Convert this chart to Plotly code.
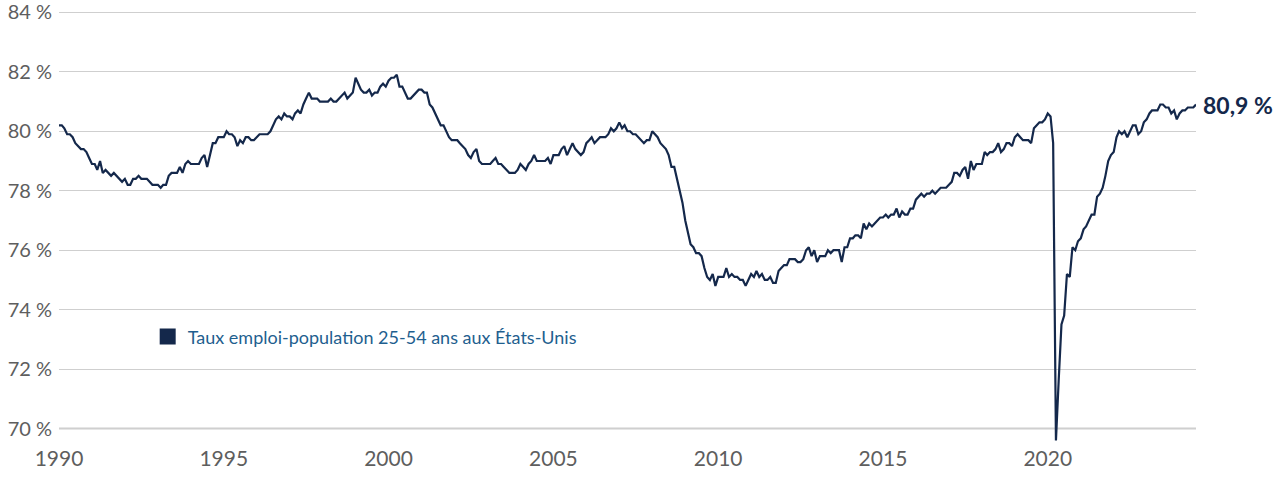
import pandas as pd
import plotly.graph_objects as go

NAVY = "#14284B"
BLEU = "#1F5F8F"
GRIS = "#5E5E5E"

debut = "1990-01-01"

# taux d'emploi-population 25-54 ans, mensuel (%)
taux_emploi = [
    80.2, 80.2, 80.1, 79.9, 79.9, 79.8, 79.6, 79.5, 79.4, 79.4, 79.3, 79.1,  # 1990
    78.9, 78.9, 78.7, 79.0, 78.6, 78.7, 78.6, 78.5, 78.6, 78.5, 78.4, 78.3,  # 1991
    78.4, 78.2, 78.2, 78.4, 78.4, 78.5, 78.4, 78.4, 78.4, 78.3, 78.2, 78.2,  # 1992
    78.2, 78.1, 78.2, 78.2, 78.5, 78.6, 78.6, 78.6, 78.8, 78.6, 78.9, 79.0,  # 1993
    78.9, 78.9, 78.9, 78.9, 79.1, 79.2, 78.8, 79.2, 79.6, 79.6, 79.8, 79.8,  # 1994
    79.8, 80.0, 79.9, 79.9, 79.8, 79.5, 79.7, 79.6, 79.8, 79.8, 79.7, 79.7,  # 1995
    79.8, 79.9, 79.9, 79.9, 79.9, 80.0, 80.2, 80.4, 80.5, 80.4, 80.6, 80.5,  # 1996
    80.5, 80.4, 80.6, 80.7, 80.6, 80.9, 81.1, 81.3, 81.1, 81.1, 81.1, 81.0,  # 1997
    81.0, 81.0, 81.0, 81.1, 81.0, 81.0, 81.1, 81.2, 81.3, 81.1, 81.2, 81.3,  # 1998
    81.8, 81.6, 81.4, 81.3, 81.3, 81.4, 81.2, 81.3, 81.3, 81.5, 81.6, 81.5,  # 1999
    81.7, 81.8, 81.8, 81.9, 81.5, 81.5, 81.3, 81.1, 81.1, 81.2, 81.3, 81.4,  # 2000
    81.4, 81.3, 81.3, 80.9, 80.8, 80.6, 80.4, 80.2, 80.2, 80.0, 79.8, 79.7,  # 2001
    79.7, 79.7, 79.6, 79.5, 79.4, 79.2, 79.1, 79.3, 79.4, 79.0, 78.9, 78.9,  # 2002
    78.9, 78.9, 79.0, 79.1, 78.9, 78.9, 78.8, 78.7, 78.6, 78.6, 78.6, 78.7,  # 2003
    78.9, 78.8, 78.7, 78.9, 79.0, 79.2, 79.0, 79.0, 79.0, 79.0, 79.1, 78.9,  # 2004
    79.2, 79.2, 79.2, 79.4, 79.5, 79.2, 79.4, 79.6, 79.4, 79.3, 79.2, 79.3,  # 2005
    79.6, 79.7, 79.8, 79.6, 79.7, 79.8, 79.8, 79.8, 79.9, 80.1, 80.0, 80.1,  # 2006
    80.3, 80.1, 80.2, 80.0, 80.0, 79.9, 79.9, 79.8, 79.7, 79.6, 79.7, 79.7,  # 2007
    80.0, 79.9, 79.8, 79.6, 79.5, 79.4, 79.2, 78.8, 78.8, 78.4, 78.0, 77.6,  # 2008
    77.0, 76.6, 76.2, 76.1, 75.9, 75.9, 75.8, 75.4, 75.1, 75.0, 75.2, 74.8,  # 2009
    75.1, 75.1, 75.1, 75.4, 75.1, 75.2, 75.1, 75.1, 75.0, 75.0, 74.8, 75.0,  # 2010
    75.2, 75.1, 75.3, 75.1, 75.2, 75.0, 75.0, 75.1, 74.9, 74.9, 75.3, 75.4,  # 2011
    75.5, 75.5, 75.7, 75.7, 75.7, 75.6, 75.6, 75.7, 76.0, 76.1, 75.8, 76.0,  # 2012
    75.6, 75.8, 75.8, 75.8, 76.0, 75.9, 76.0, 76.0, 76.0, 75.6, 76.1, 76.1,  # 2013
    76.4, 76.4, 76.5, 76.5, 76.4, 76.9, 76.7, 76.9, 76.8, 76.9, 77.0, 77.1,  # 2014
    77.1, 77.2, 77.1, 77.2, 77.2, 77.4, 77.1, 77.3, 77.2, 77.2, 77.4, 77.4,  # 2015
    77.7, 77.8, 77.9, 77.8, 77.9, 77.9, 78.0, 77.9, 78.0, 78.1, 78.1, 78.1,  # 2016
    78.2, 78.3, 78.6, 78.6, 78.5, 78.7, 78.8, 78.4, 79.0, 78.7, 78.9, 78.9,  # 2017
    78.9, 79.3, 79.2, 79.3, 79.3, 79.4, 79.6, 79.3, 79.4, 79.6, 79.6, 79.5,  # 2018
    79.8, 79.9, 79.8, 79.7, 79.7, 79.7, 79.6, 80.1, 80.2, 80.3, 80.3, 80.4,  # 2019
    80.6, 80.5, 79.6, 69.6, 71.6, 73.5, 73.8, 75.2, 75.1, 76.1, 76.0, 76.3,  # 2020
    76.4, 76.7, 76.8, 77.0, 77.2, 77.2, 77.8, 77.9, 78.1, 78.5, 79.0, 79.2,  # 2021
    79.3, 79.8, 80.0, 79.9, 80.0, 79.8, 80.0, 80.2, 80.2, 79.9, 80.0, 80.3,  # 2022
    80.4, 80.6, 80.7, 80.7, 80.7, 80.9, 80.9, 80.8, 80.8, 80.6, 80.7, 80.4,  # 2023
    80.6, 80.7, 80.7, 80.8, 80.8, 80.8, 80.9,                                # 2024
]

annees_ticks = [1990, 1995, 2000, 2005, 2010, 2015, 2020]
y_ticks = [70, 72, 74, 76, 78, 80, 82, 84]

dates = pd.date_range(debut, periods=len(taux_emploi), freq="MS")
serie = "Taux emploi-population 25-54 ans aux États-Unis"

fig = go.Figure()
fig.add_trace(go.Scatter(
    x=dates, y=taux_emploi,
    mode="lines",
    line=dict(color=NAVY, width=2.2),
    showlegend=False,
    hoverinfo="skip",
))
# entrée de légende carrée
fig.add_trace(go.Scatter(
    x=[None], y=[None],
    mode="markers",
    marker=dict(symbol="square", size=16, color=NAVY),
    name=serie,
))

dernier = taux_emploi[-1]
fig.add_annotation(
    x=dates[-1], y=dernier,
    text=f"<b>{dernier:.1f}".replace(".", ",") + " %</b>",
    xanchor="left", yanchor="middle", xshift=5, showarrow=False,
    font=dict(size=23, color=NAVY),
)

# ligne de base 70 %
fig.add_shape(type="line", xref="paper", yref="y", x0=0, x1=1, y0=70, y1=70,
              line=dict(color="#9A9A9A", width=1.5), layer="below")

fig.update_layout(
    width=1280, height=477,
    margin=dict(l=59, r=84, t=4, b=35),
    paper_bgcolor="white",
    plot_bgcolor="white",
    font=dict(family="Lato, sans-serif", size=20, color=GRIS),
    xaxis=dict(
        type="date",
        range=[dates[0], dates[-1]],
        tickvals=[pd.Timestamp(f"{a}-01-01") for a in annees_ticks],
        ticktext=[str(a) for a in annees_ticks],
        tickfont=dict(size=21),
        showgrid=False, zeroline=False, showline=False, ticks="",
        ticklabelstandoff=2,
        automargin=False,
    ),
    yaxis=dict(
        range=[69.55, 84.28],
        tickvals=y_ticks,
        ticktext=[f"{v} %" for v in y_ticks],
        tickfont=dict(size=20),
        showgrid=True, gridcolor="#CFCFCF", gridwidth=1,
        zeroline=False, showline=False, ticks="",
        ticklabelstandoff=6,
        ticklabeloverflow="allow",
        automargin=False,
    ),
    legend=dict(
        x=0.078, y=0.24, xanchor="left", yanchor="middle",
        font=dict(size=18, color=BLEU),
        bgcolor="rgba(0,0,0,0)",
    ),
)

fig.write_html(
    "out.html",
    config={"displayModeBar": False, "staticPlot": True},
    post_script="document.body.style.margin='0';",
)
